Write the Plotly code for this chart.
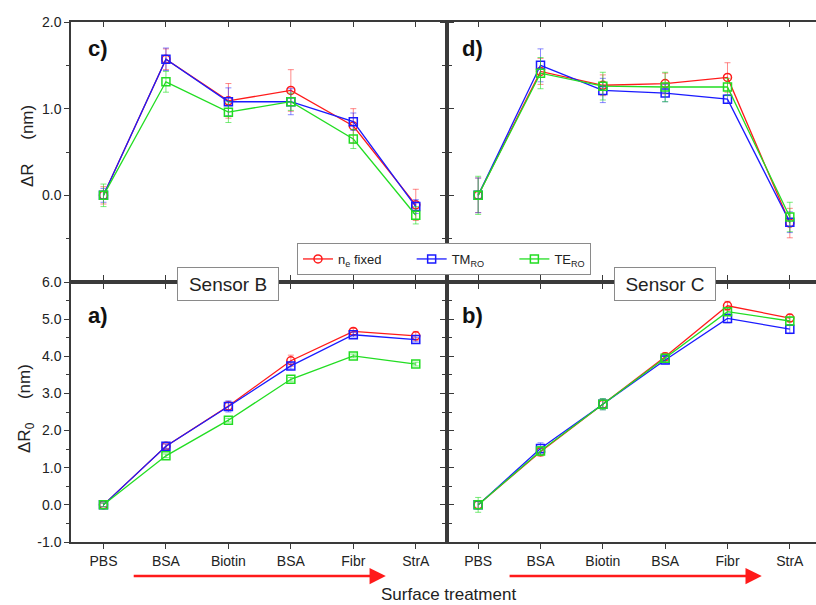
import plotly.graph_objects as go

# Surface treatment steps (x positions 0..5)
steps = ["PBS", "BSA", "Biotin", "BSA", "Fibr", "StrA"]
x_idx = [0, 1, 2, 3, 4, 5]

# c) Sensor B, delta R (nm)
c_ne = [0.00, 1.57, 1.09, 1.21, 0.80, -0.11]
c_ne_err = [0.10, 0.12, 0.20, 0.24, 0.20, 0.18]
c_tm = [0.00, 1.57, 1.08, 1.08, 0.85, -0.13]
c_tm_err = [0.08, 0.13, 0.16, 0.15, 0.10, 0.08]
c_te = [0.00, 1.31, 0.96, 1.08, 0.65, -0.23]
c_te_err = [0.13, 0.12, 0.12, 0.10, 0.11, 0.10]

# d) Sensor C, delta R (nm)
d_ne = [0.00, 1.43, 1.27, 1.29, 1.36, -0.32]
d_ne_err = [0.20, 0.15, 0.12, 0.12, 0.17, 0.17]
d_tm = [0.00, 1.50, 1.21, 1.18, 1.11, -0.31]
d_tm_err = [0.20, 0.19, 0.14, 0.10, 0.05, 0.12]
d_te = [0.00, 1.41, 1.26, 1.25, 1.25, -0.25]
d_te_err = [0.22, 0.18, 0.16, 0.17, 0.10, 0.17]

# a) Sensor B, delta R0 (nm)
a_ne = [0.00, 1.58, 2.66, 3.88, 4.67, 4.55]
a_ne_err = [0.05, 0.06, 0.12, 0.15, 0.08, 0.12]
a_tm = [0.00, 1.58, 2.65, 3.74, 4.58, 4.45]
a_tm_err = [0.05, 0.06, 0.15, 0.08, 0.06, 0.06]
a_te = [0.00, 1.32, 2.28, 3.38, 4.01, 3.79]
a_te_err = [0.05, 0.05, 0.05, 0.05, 0.05, 0.05]

# b) Sensor C, delta R0 (nm)
b_ne = [0.00, 1.43, 2.71, 3.99, 5.36, 5.03]
b_ne_err = [0.10, 0.12, 0.12, 0.10, 0.12, 0.10]
b_tm = [0.00, 1.52, 2.71, 3.90, 5.02, 4.73]
b_tm_err = [0.10, 0.15, 0.15, 0.10, 0.12, 0.12]
b_te = [0.00, 1.45, 2.71, 3.95, 5.20, 4.95]
b_te_err = [0.20, 0.12, 0.15, 0.10, 0.10, 0.10]

W, H = 816, 605
FONT = "Liberation Sans, Arial, sans-serif"
AX = "#3a3a3a"
TXT = "#222222"
PAD = "\u00a0" * 7

RED, BLUE, GREEN = "#ff1a1a", "#1a1aff", "#22dd22"
RED_E, BLUE_E, GREEN_E = "rgba(255,40,40,0.55)", "rgba(40,40,255,0.55)", "rgba(34,221,34,0.6)"

series = [
    ("n<sub>e</sub> fixed" + PAD, "circle-open", RED, RED_E),
    ("TM<sub>RO</sub>" + PAD, "square-open", BLUE, BLUE_E),
    ("TE<sub>RO</sub>", "square-open", GREEN, GREEN_E),
]

panels = {
    "c": ("x", "y", [(c_ne, c_ne_err), (c_tm, c_tm_err), (c_te, c_te_err)]),
    "d": ("x2", "y2", [(d_ne, d_ne_err), (d_tm, d_tm_err), (d_te, d_te_err)]),
    "a": ("x3", "y3", [(a_ne, a_ne_err), (a_tm, a_tm_err), (a_te, a_te_err)]),
    "b": ("x4", "y4", [(b_ne, b_ne_err), (b_tm, b_tm_err), (b_te, b_te_err)]),
}

fig = go.Figure()
first = True
for key, (xa, ya, data) in panels.items():
    for (name, sym, col, ecol), (vals, errs) in zip(series, data):
        fig.add_trace(go.Scatter(
            x=x_idx, y=vals, xaxis=xa, yaxis=ya,
            mode="lines+markers", name=name, showlegend=first,
            line=dict(color=col, width=1.3),
            marker=dict(symbol=sym, size=8, color=col, line=dict(color=col, width=1.5)),
            error_y=dict(type="data", array=errs, visible=True,
                         color=ecol, thickness=1, width=3),
        ))
    first = False

# empty traces so the top tick rows of the upper panels get drawn
fig.add_trace(go.Scatter(x=[None], y=[None], xaxis="x5", yaxis="y", showlegend=False, hoverinfo="skip"))
fig.add_trace(go.Scatter(x=[None], y=[None], xaxis="x6", yaxis="y2", showlegend=False, hoverinfo="skip"))

xL = [71 / W, 447 / W]
xR = [447 / W, 1.0]
yT = [1 - 282 / H, 1 - 22 / H]
yB = [1 - 542 / H, 1 - 282 / H]
rangeL = [-0.52, 5.5]
rangeR = [-0.5, 5.42]

tickfont = dict(family=FONT, size=14, color=TXT)


def xaxis(domain, rng, anchor, labels, mirror):
    return dict(domain=domain, range=rng, anchor=anchor, automargin=False,
                tickmode="array", tickvals=x_idx, ticktext=steps,
                showticklabels=labels, ticks="outside", ticklen=5, tickwidth=1.3,
                tickcolor=AX, showline=True, linecolor=AX, linewidth=1.5,
                mirror=mirror, showgrid=False, zeroline=False, tickfont=tickfont)


def yaxis(domain, rng, anchor, vals, labels, mirror):
    return dict(domain=domain, range=rng, anchor=anchor, automargin=False,
                tickmode="array", tickvals=vals, ticktext=[f"{v:.1f}" for v in vals],
                showticklabels=labels, ticks="outside", ticklen=5, tickwidth=1.3,
                tickcolor=AX, showline=True, linecolor=AX, linewidth=1.5,
                mirror=mirror, showgrid=False, zeroline=False, tickfont=tickfont,
                minor=dict(tickmode="linear", tick0=0, dtick=0.5, ticks="outside",
                           ticklen=3, tickwidth=1.2, tickcolor=AX))


def top_ticks(over, anchor, rng):
    return dict(overlaying=over, side="top", anchor=anchor, range=rng, automargin=False,
                tickmode="array", tickvals=x_idx, showticklabels=False, ticks="inside",
                ticklen=5, tickwidth=1.3, tickcolor=AX, showline=False, showgrid=False,
                zeroline=False)


top_vals = [0, 1, 2]
bot_vals = [-1, 0, 1, 2, 3, 4, 5, 6]

fig.update_layout(
    xaxis=xaxis(xL, rangeL, "y", False, True),
    yaxis=yaxis(yT, [-1, 2], "x", top_vals, True, "ticks"),
    xaxis2=xaxis(xR, rangeR, "y2", False, True),
    yaxis2=yaxis(yT, [-1, 2], "x2", top_vals, False, False),
    xaxis3=xaxis(xL, rangeL, "y3", True, "ticks"),
    yaxis3=yaxis(yB, [-1, 6], "x3", bot_vals, True, "ticks"),
    xaxis4=xaxis(xR, rangeR, "y4", True, "ticks"),
    yaxis4=yaxis(yB, [-1, 6], "x4", bot_vals, False, False),
    xaxis5=top_ticks("x", "y", rangeL),
    xaxis6=top_ticks("x2", "y2", rangeR),
    width=W, height=H, autosize=False,
    margin=dict(l=0, r=0, t=0, b=0, pad=0),
    paper_bgcolor="white", plot_bgcolor="white",
    font=dict(family=FONT, color=TXT),
    showlegend=True,
    legend=dict(orientation="h", x=297 / W, y=1 - 243 / H, xanchor="left", yanchor="top",
                bgcolor="white", bordercolor="#8a8a8a", borderwidth=1,
                font=dict(family=FONT, size=13, color=TXT),
                itemwidth=30, tracegroupgap=0),
)

ann = []
# panel letters
for txt, px, py in [("c)", 86, 48), ("d)", 460, 48), ("a)", 86, 315), ("b)", 460, 315)]:
    ann.append(dict(text=f"<b>{txt}</b>", x=px / W, y=1 - py / H, xref="paper", yref="paper",
                    xanchor="left", yanchor="middle", showarrow=False,
                    font=dict(family=FONT, size=22, color="#111")))
# y titles
GAP = "\u00a0" * 5
ann.append(dict(text="ΔR" + GAP + "(nm)", x=27 / W, y=1 - 146 / H, xref="paper", yref="paper",
                textangle=-90, showarrow=False, xanchor="center", yanchor="middle",
                font=dict(family=FONT, size=17, color=TXT)))
ann.append(dict(text="ΔR<sub>0</sub>" + GAP + "(nm)", x=26 / W, y=1 - 409 / H, xref="paper",
                yref="paper", textangle=-90, showarrow=False, xanchor="center",
                yanchor="middle", font=dict(family=FONT, size=17, color=TXT)))
# sensor labels
for txt, xr, xv in [("Sensor B", "x3", 2.0), ("Sensor C", "x4", 3.0)]:
    ann.append(dict(text=txt, x=xv, xref=xr, y=1 - 284 / H, yref="paper",
                    showarrow=False, xanchor="center", yanchor="middle",
                    width=96, height=28, borderpad=2, borderwidth=1,
                    bordercolor="#8a8a8a", bgcolor="white",
                    font=dict(family=FONT, size=19, color=TXT)))
# x title
ann.append(dict(text="Surface treatment", x=448 / W, y=1 - 594 / H, xref="paper", yref="paper",
                showarrow=False, xanchor="center", yanchor="middle",
                font=dict(family=FONT, size=17, color=TXT)))
# red process arrows
for xr, x0, x1 in [("x3", 0.46, 4.52), ("x4", 0.48, 4.55)]:
    ann.append(dict(x=x1, y=1 - 576 / H, xref=xr, yref="paper",
                    ax=x0, ay=0, axref=xr, ayref="pixel",
                    text="", showarrow=True, arrowhead=2, arrowsize=1.3,
                    arrowwidth=2.5, arrowcolor="#ff1a1a"))
fig.update_layout(annotations=ann)

fig.write_html(
    "out.html",
    config={"responsive": False, "displayModeBar": False},
    post_script="document.body.style.margin='0';document.body.style.overflow='hidden';",
)
